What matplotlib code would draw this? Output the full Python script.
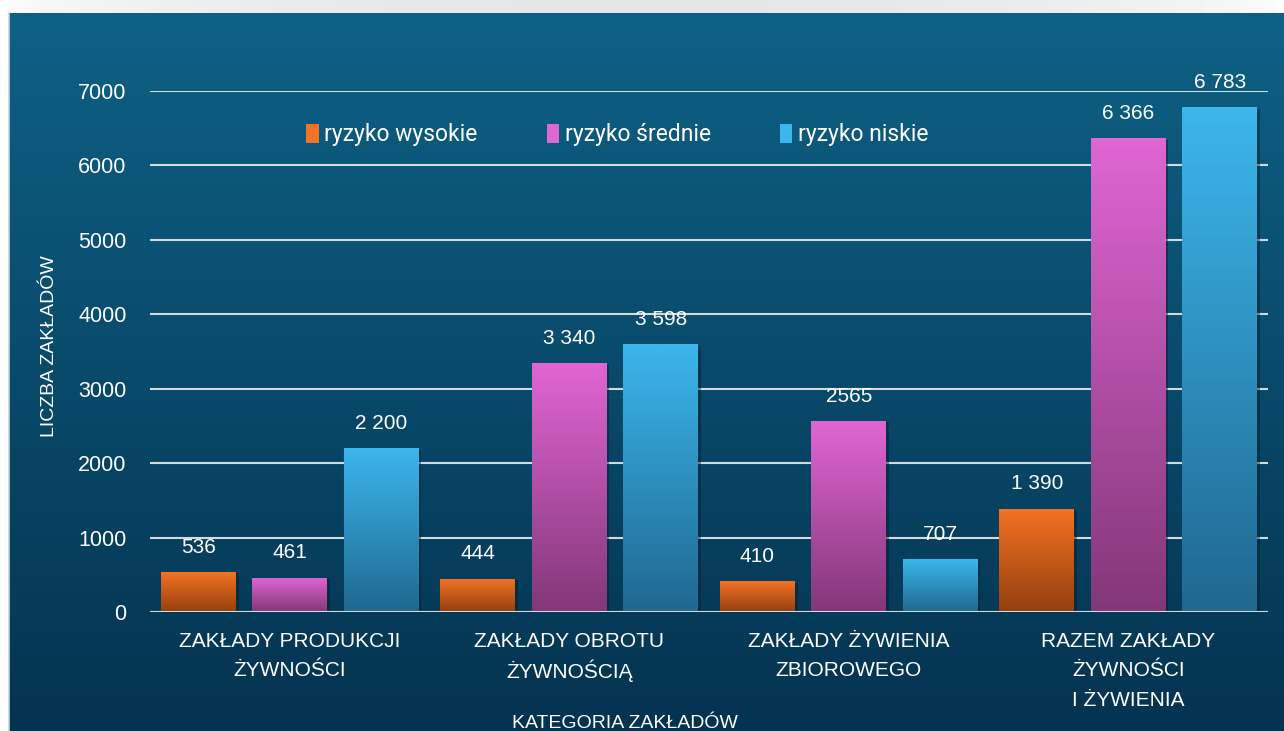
import numpy as np
import matplotlib.pyplot as plt
from matplotlib.colors import LinearSegmentedColormap
from matplotlib.patches import Patch
import matplotlib.patheffects as pe

plt.rcParams['font.family'] = ['Liberation Sans', 'DejaVu Sans']

# data
categories = ['ZAKŁADY PRODUKCJI\nŻYWNOŚCI', 'ZAKŁADY OBROTU\nŻYWNOŚCIĄ',
              'ZAKŁADY ŻYWIENIA\nZBIOROWEGO', 'RAZEM ZAKŁADY\nŻYWNOŚCI\nI ŻYWIENIA']
series = ['ryzyko wysokie', 'ryzyko średnie', 'ryzyko niskie']
wysokie = [536, 444, 410, 1390]
srednie = [461, 3340, 2565, 6366]
niskie = [2200, 3598, 707, 6783]
value_labels = [
    ['536', '444', '410', '1 390'],
    ['461', '3 340', '2565', '6 366'],
    ['2 200', '3 598', '707', '6 783'],
]

# top / bottom colour of each series gradient
grad_colors = [('#f47224', '#94400f'), ('#e066d3', '#833779'), ('#3cb6ec', '#1f6890')]

W, H = 1284, 731
fig = plt.figure(figsize=(W / 100, H / 100), dpi=100)

# light strip along the top
strip = fig.add_axes([0, 1 - 13 / H, 1, 13 / H])
sx = np.linspace(0, 1, 256)
sv = 1 - 0.1 * np.sin(np.pi * sx) ** 0.5
strip.imshow(sv[None, :], cmap='gray', vmin=0, vmax=1, aspect='auto', extent=[0, 1, 0, 1])
strip.axis('off')

# dark blue panel with vertical gradient
panel = fig.add_axes([9 / W, 0, 1 - 9 / W, 1 - 13 / H])
bg = LinearSegmentedColormap.from_list('bg', ['#043350', '#0e6186'])
panel.imshow(np.linspace(0, 1, 256)[:, None], cmap=bg, aspect='auto',
             origin='lower', extent=[0, 1, 0, 1])
panel.axis('off')
fig.add_artist(plt.Line2D([9 / W, 9 / W], [0, 1 - 13 / H], color='#c8d2d8', lw=1.2,
                          transform=fig.transFigure))

ax = fig.add_axes([150 / W, 119 / H, 1118 / W, 521 / H])
ax.set_facecolor('none')

x = np.arange(len(categories))
width = 0.268
step = 0.327
for i, vals in enumerate([wysokie, srednie, niskie]):
    cmap = LinearSegmentedColormap.from_list('g%d' % i, [grad_colors[i][1], grad_colors[i][0]])
    bars = ax.bar(x + (i - 1) * step, vals, width, color=grad_colors[i][1], zorder=3,
                  path_effects=[pe.SimplePatchShadow(offset=(2, -1), shadow_rgbFace='#021c2c',
                                                     alpha=0.45), pe.Normal()])
    for b, lab in zip(bars, value_labels[i]):
        bx, bw, bh = b.get_x(), b.get_width(), b.get_height()
        im = ax.imshow(np.linspace(0, 1, 128)[:, None], cmap=cmap, aspect='auto',
                       origin='lower', extent=[bx, bx + bw, 0, bh], zorder=4)
        im.set_clip_path(b)
        ax.annotate(lab, (bx + bw / 2, bh), xytext=(0, 18), textcoords='offset points',
                    ha='center', va='center', color='white', fontsize=15, zorder=5)

ax.set_xlim(-0.5, 3.5)
ax.set_ylim(0, 7000)

ax.set_yticks(np.arange(0, 7001, 1000))
ax.yaxis.grid(True, color='#d4d9dc', lw=1.5, zorder=1)
ax.axhline(0, color='#d4d9dc', lw=2.2, zorder=6)
for s in ax.spines.values():
    s.set_visible(False)
ax.tick_params(axis='y', length=0, pad=17, labelsize=15.5, labelcolor='white')

# category labels line by line so every row sits on the same baseline grid
ax.set_xticks(x)
ax.set_xticklabels([])
ax.tick_params(axis='x', length=0)
for xi, cat in zip(x, categories):
    for j, line in enumerate(cat.split('\n')):
        ax.annotate(line, (xi, 0), xycoords=ax.get_xaxis_transform(),
                    xytext=(0, -21 - 21.2 * j), textcoords='offset points',
                    ha='center', va='center', color='white', fontsize=15)

ax.set_ylabel('LICZBA ZAKŁADÓW', color='white', fontsize=14)
ax.yaxis.set_label_coords(-0.082, 0.51)
ax.set_xlabel('KATEGORIA ZAKŁADÓW', color='white', fontsize=14)
ax.xaxis.set_label_coords(0.425, -0.198)

handles = [Patch(facecolor=c[0], edgecolor='none') for c in grad_colors]
leg = ax.legend(handles, series, ncol=3, loc='center', bbox_to_anchor=(0.418, 0.916),
                frameon=False, handlelength=0.55, handleheight=0.95,
                handletextpad=0.25, columnspacing=3.0,
                prop={'family': 'Roboto', 'size': 16.5})
for t in leg.get_texts():
    t.set_color('white')

fig.savefig('out.png', dpi=100)
